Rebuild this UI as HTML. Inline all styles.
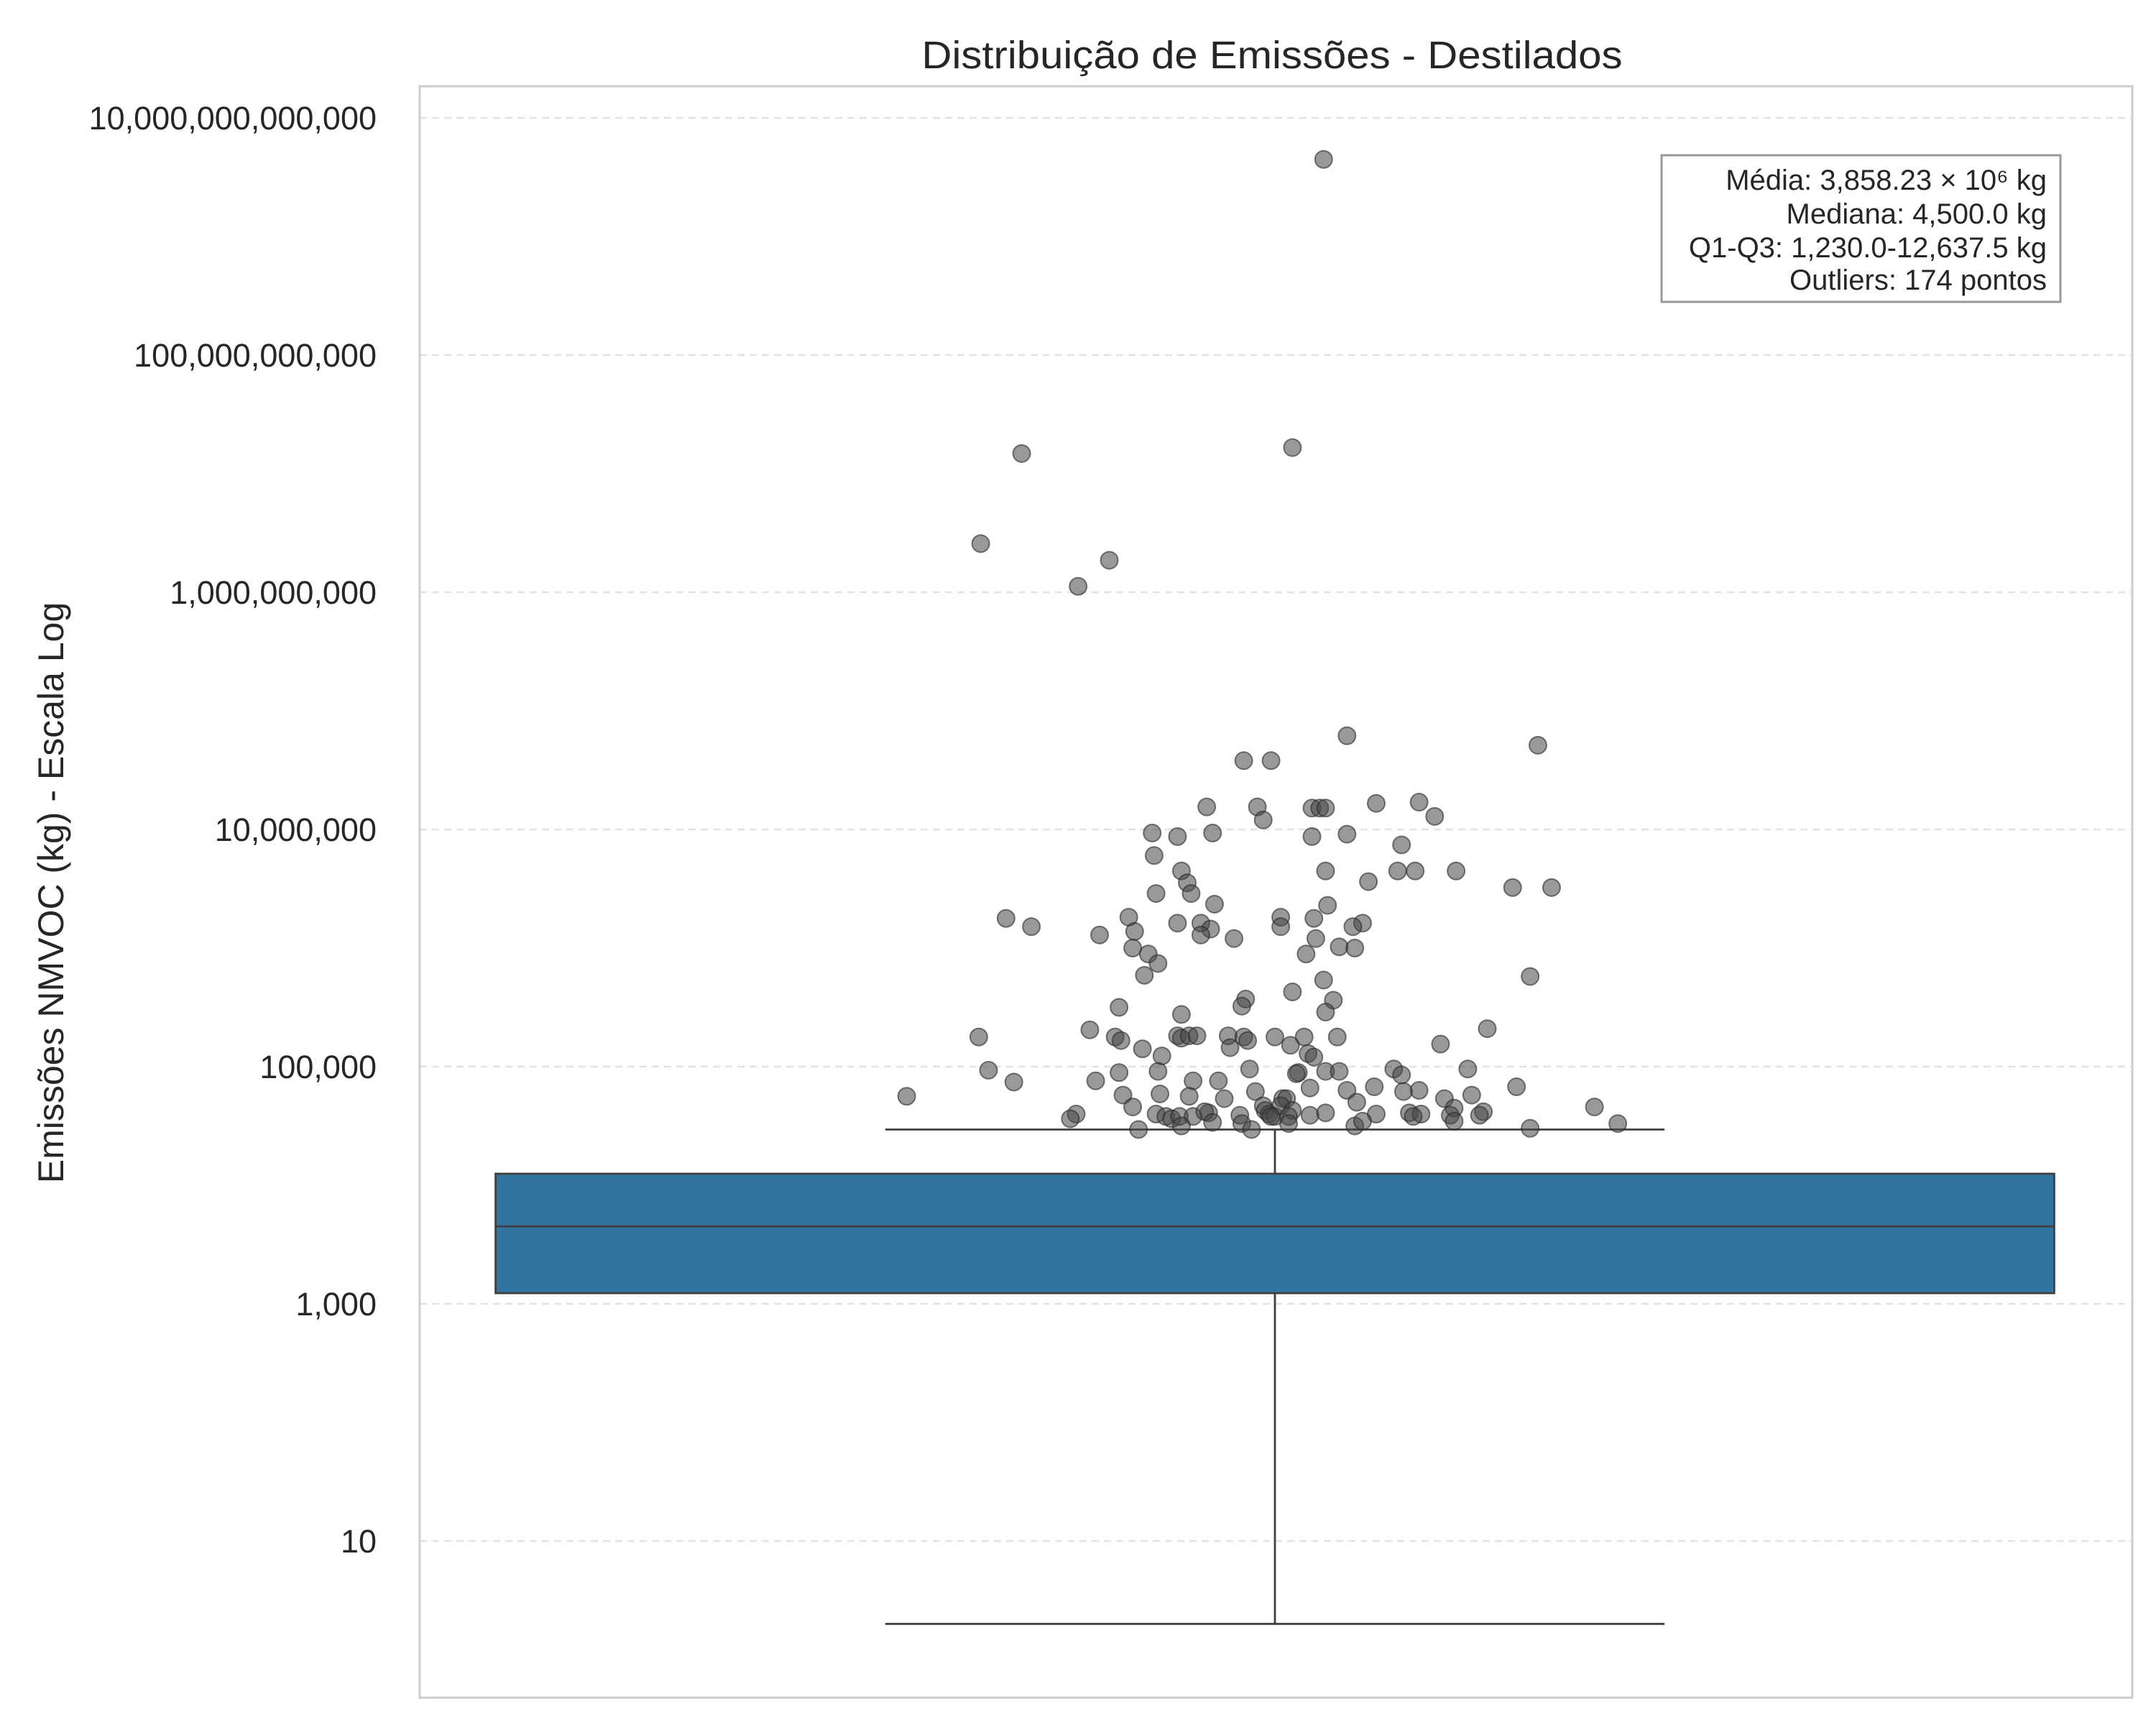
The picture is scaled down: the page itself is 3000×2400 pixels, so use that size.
<!DOCTYPE html>
<html><head><meta charset="utf-8"><style>
html,body{margin:0;padding:0;background:#fff}
svg{display:block}
text{font-family:"Liberation Sans",Arial,sans-serif;fill:#262626}
</style></head><body>
<svg id="chart" width="3000" height="2400" viewBox="0 0 3000 2400" xmlns="http://www.w3.org/2000/svg">
<rect x="0" y="0" width="3000" height="2400" fill="#fff"/>
<g id="grid"></g>
<g id="ticks"></g>
<g id="box"></g>
<g id="pts"></g>
<rect x="584" y="120" width="2383" height="2242" fill="none" stroke="#cccccc" stroke-width="3"/>
<text x="1770" y="95" font-size="54" text-anchor="middle" textLength="975" lengthAdjust="spacingAndGlyphs">Distribuição de Emissões - Destilados</text>
<text transform="translate(88,1242) rotate(-90)" font-size="50" text-anchor="middle">Emissões NMVOC (kg) - Escala Log</text>
<g>
<rect x="2312" y="216" width="555" height="204" fill="#fff" stroke="#999" stroke-width="3"/>
<text x="2848" y="264" font-size="40" text-anchor="end">Média: 3,858.23 × 10⁶ kg</text>
<text x="2848" y="311" font-size="40" text-anchor="end">Mediana: 4,500.0 kg</text>
<text x="2848" y="358" font-size="40" text-anchor="end">Q1-Q3: 1,230.0-12,637.5 kg</text>
<text x="2848" y="403" font-size="40" text-anchor="end">Outliers: 174 pontos</text>
</g>
</svg>
<script>
const tickValues=[10,1e3,1e5,1e7,1e9,1e11,1e13];
const tickLabels=["10","1,000","100,000","10,000,000","1,000,000,000","100,000,000,000","10,000,000,000,000"];
const boxStats=[2.0,1230,4500,12500,29500]; // whisker low, q1, median, q3, whisker high
const jitter=[.025,-.130,.009,-.151,-.085,-.101,.037,.135,-.016,-.002,-.035,-.009,.019,.023,.026,.052,.074,.082,-.006,-.063,-.050,-.032,.019,.037,.065,-.062,-.048,.026,.063,.072,.093,-.045,-.043,.048,.122,.142,-.061,-.031,.027,-.138,-.075,-.050,-.038,.003,.020,-.125,-.072,-.033,.003,.045,.040,-.090,-.038,-.021,.021,-.073,-.065,.016,.033,.041,-.060,-.067,.025,.131,.009,.030,-.015,-.017,.026,-.080,-.048,-.095,-.152,.109,-.050,-.048,-.044,-.040,-.082,-.079,-.024,-.016,-.014,0,.015,.032,.008,.085,-.068,-.023,.017,.020,-.058,-.147,.012,.011,.026,.033,.061,.065,.099,-.080,-.060,-.013,-.134,-.092,-.042,-.029,.124,.018,.037,.051,.074,.087,.101,-.189,-.078,-.059,-.044,-.026,-.010,.004,.006,.042,.066,.092,.107,.164,-.073,-.034,-.006,-.005,-.003,0,.003,.009,.052,.069,.075,.090,.105,-.102,-.105,-.061,-.056,-.053,-.049,-.042,-.036,-.018,-.017,-.002,.007,.018,.026,.071,.092,.176,-.070,-.048,-.032,-.012,.007,.041,.131,.045];
const log10Emissions=[12.65,10.17,10.22,9.41,9.27,9.05,7.79,7.71,7.58,7.58,7.19,7.19,7.18,7.18,7.18,7.22,7.23,7.11,7.08,6.97,6.94,6.97,6.94,6.96,6.87,6.78,6.65,6.65,6.65,6.65,6.65,6.55,6.46,6.56,6.51,6.51,6.46,6.37,6.36,6.25,6.26,6.21,6.21,6.26,6.25,6.18,6.14,6.16,6.18,6.21,6.18,6.11,6.11,6.08,6.08,6.00,5.95,5.95,6.01,6.00,5.87,5.77,5.73,5.76,5.63,5.56,5.57,5.51,5.46,5.50,5.44,5.31,5.25,5.32,5.26,5.24,5.26,5.26,5.25,5.22,5.26,5.25,5.22,5.25,5.25,5.25,5.18,5.19,5.15,5.16,5.11,5.08,5.09,4.97,4.95,4.94,4.96,4.96,4.98,4.93,4.98,4.95,4.96,4.98,4.87,4.88,4.88,4.88,4.83,4.82,4.80,4.83,4.80,4.73,4.76,4.75,4.76,4.77,4.75,4.73,4.79,4.73,4.73,4.70,4.79,4.65,4.62,4.66,4.66,4.61,4.67,4.63,4.60,4.58,4.67,4.63,4.60,4.61,4.60,4.59,4.59,4.60,4.56,4.60,4.58,4.56,4.58,4.58,4.62,4.59,4.52,4.58,4.58,4.59,4.61,4.58,4.54,4.52,4.47,4.50,4.53,4.47,4.52,4.50,4.48,4.54];

const NS="http://www.w3.org/2000/svg";
function yScale(v){return 164+(13-Math.log10(v))*165;}
function yLog(e){return 164+(13-e)*165;}
function xScale(u){return 1774+u*2711;}
function mk(tag,attrs,parent){const el=document.createElementNS(NS,tag);for(const k in attrs)el.setAttribute(k,attrs[k]);parent.appendChild(el);return el;}
const grid=document.getElementById('grid'),ticks=document.getElementById('ticks');
tickValues.forEach((v,i)=>{
  const y=yScale(v);
  const l=mk('line',{x1:584,x2:2967,y1:y,y2:y,stroke:'#e3e3e3','stroke-width':2.5,'stroke-dasharray':'10,7'},grid);
  
  
  const t=mk('text',{x:524,y:y+16,'font-size':45,'text-anchor':'end'},ticks);
  t.textContent=tickLabels[i];
  
  
});
const box=document.getElementById('box');
const [wlo,q1,med,q3,whi]=boxStats;
const ed='#3f3f3f';
let e;
e=mk('line',{x1:xScale(0),x2:xScale(0),y1:yScale(q3),y2:yScale(whi),stroke:ed,'stroke-width':2.8},box);


e=mk('line',{x1:xScale(0),x2:xScale(0),y1:yScale(q1),y2:yScale(wlo),stroke:ed,'stroke-width':2.8},box);


e=mk('line',{x1:xScale(-0.2),x2:xScale(0.2),y1:yScale(whi),y2:yScale(whi),stroke:ed,'stroke-width':2.8},box);


e=mk('line',{x1:xScale(-0.2),x2:xScale(0.2),y1:yScale(wlo),y2:yScale(wlo),stroke:ed,'stroke-width':2.8},box);


e=mk('rect',{x:xScale(-0.4),y:yScale(q3),width:xScale(0.4)-xScale(-0.4),height:yScale(q1)-yScale(q3),fill:'#3274a1',stroke:ed,'stroke-width':2.8},box);


e=mk('line',{x1:xScale(-0.4),x2:xScale(0.4),y1:yScale(med),y2:yScale(med),stroke:ed,'stroke-width':2.8},box);


const pts=document.getElementById('pts');
log10Emissions.forEach((lv,i)=>{
  const c=mk('circle',{cx:xScale(jitter[i]),cy:yLog(lv),r:12,fill:'rgba(70,70,70,0.55)',stroke:'rgba(40,40,40,0.6)','stroke-width':2},pts);
  
  
});
</script>
</body></html>
